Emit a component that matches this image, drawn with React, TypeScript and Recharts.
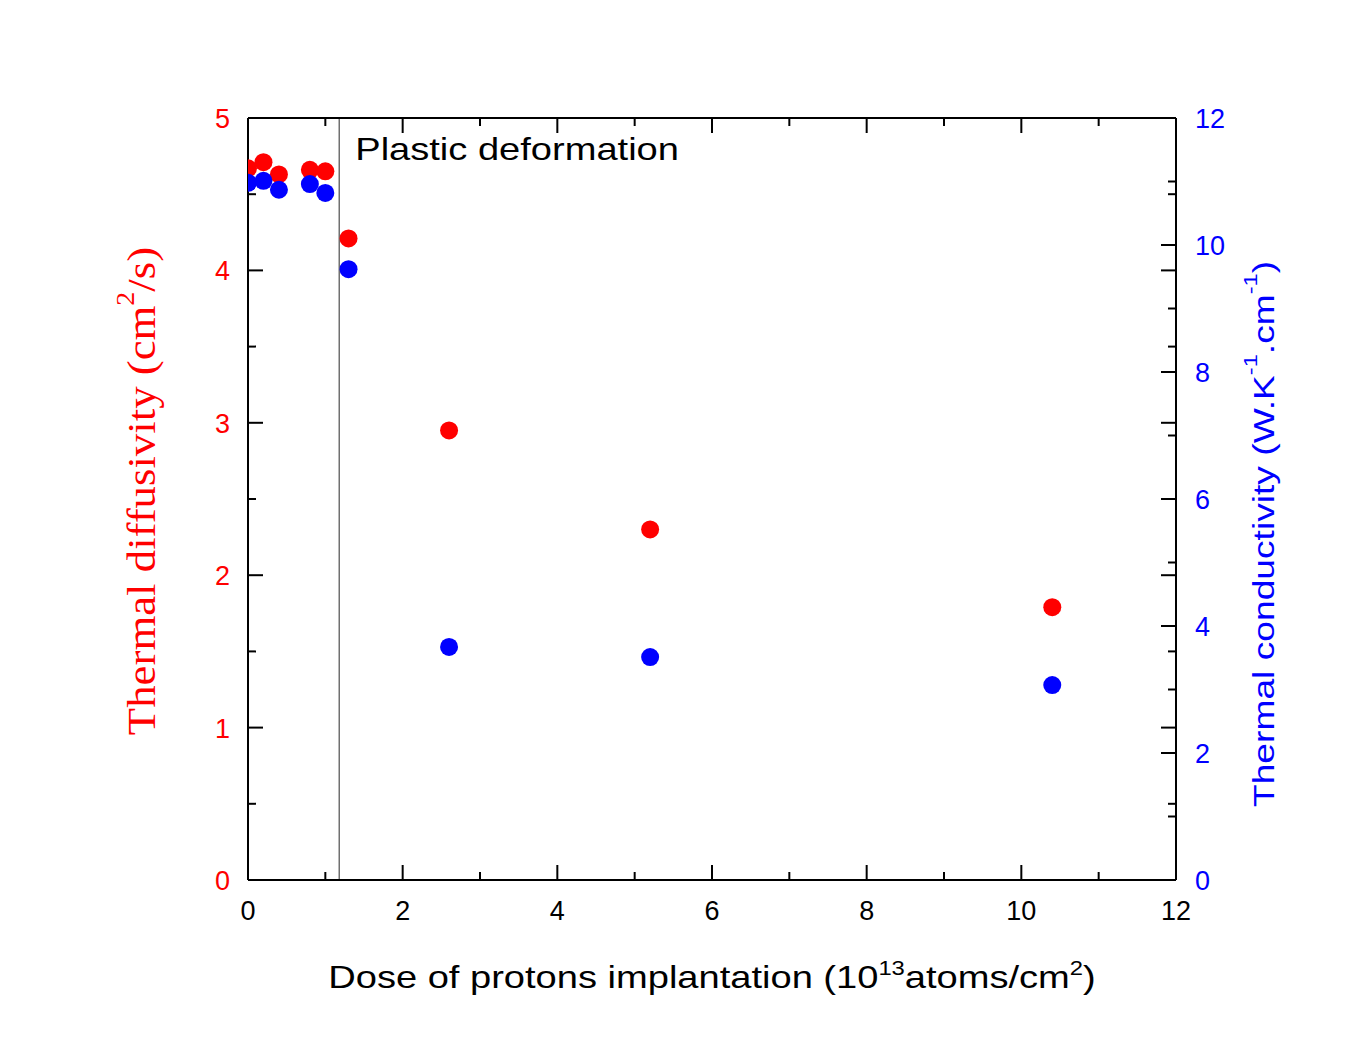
import { ScatterChart, Scatter, XAxis, YAxis, ReferenceLine } from 'recharts';

// dose of protons (10^13 atoms/cm^2)
const dose = [0, 0.2, 0.4, 0.8, 1.0, 1.3, 2.6, 5.2, 10.4];
// thermal diffusivity (cm^2/s), left axis
const diffusivity = [4.67, 4.71, 4.63, 4.66, 4.65, 4.21, 2.95, 2.3, 1.79];
// thermal conductivity (W.K^-1.cm^-1), right axis
const conductivity = [10.98, 11.01, 10.87, 10.96, 10.82, 9.62, 3.67, 3.51, 3.07];

const xMajor = [0, 2, 4, 6, 8, 10, 12];
const xTicks = [0, 1, 2, 3, 4, 5, 6, 7, 8, 9, 10, 11, 12];
const leftMajor = [0, 1, 2, 3, 4, 5];
const leftTicks = [0, 0.5, 1, 1.5, 2, 2.5, 3, 3.5, 4, 4.5, 5];
const rightMajor = [0, 2, 4, 6, 8, 10, 12];
const rightTicks = [0, 1, 2, 3, 4, 5, 6, 7, 8, 9, 10, 11, 12];

const leftMax = 5;
const rightMax = 12;
const plasticDose = 1.18;

const RED = '#ff0000';
const BLUE = '#0000ff';
const SANS = '"Liberation Sans", Arial, sans-serif';
const SERIF = '"Liberation Serif", "Times New Roman", serif';

const redPoints = dose.map((x, i) => ({ x, y: diffusivity[i] }));
const bluePoints = dose.map((x, i) => ({ x, y: conductivity[i] }));

// left-axis ticks are repeated on the right frame, expressed in right-axis units
const mirroredLeft = leftTicks
  .map((v) => (v * rightMax) / leftMax)
  .filter((v) => !rightTicks.some((r) => Math.abs(r - v) < 1e-6));
const rightAllTicks = [...rightTicks, ...mirroredLeft];

type Side = 'bottom' | 'top' | 'left' | 'right';

function makeTick(side: Side, majors: number[], color: string, showLabel: boolean) {
  return (props: any) => {
    const { x, y, payload } = props;
    const v = payload.value;
    let major = majors.some((m) => Math.abs(m - v) < 1e-6);
    let isOwn = true;
    if (side === 'right' && !rightTicks.some((r) => Math.abs(r - v) < 1e-6)) {
      isOwn = false;
      const lv = (v * leftMax) / rightMax;
      major = Math.abs(lv - Math.round(lv)) < 1e-6;
    }
    const len = major ? 15 : 8;
    let line;
    let label = null;
    if (side === 'bottom') {
      line = <line x1={x} y1={y} x2={x} y2={y - len} stroke="#000" strokeWidth={2} />;
      if (showLabel && major)
        label = (
          <text x={x} y={y + 40} textAnchor="middle" fontSize={27} fill={color} fontFamily={SANS}>
            {v}
          </text>
        );
    } else if (side === 'top') {
      line = <line x1={x} y1={y} x2={x} y2={y + len} stroke="#000" strokeWidth={2} />;
    } else if (side === 'left') {
      line = <line x1={x} y1={y} x2={x + len} y2={y} stroke="#000" strokeWidth={2} />;
      if (showLabel && major)
        label = (
          <text x={x - 18} y={y + 10} textAnchor="end" fontSize={27} fill={color} fontFamily={SANS}>
            {v}
          </text>
        );
    } else {
      line = <line x1={x} y1={y} x2={x - len} y2={y} stroke="#000" strokeWidth={2} />;
      if (showLabel && major && isOwn)
        label = (
          <text x={x + 19} y={y + 10} textAnchor="start" fontSize={27} fill={color} fontFamily={SANS}>
            {v}
          </text>
        );
    }
    return (
      <g>
        {line}
        {label}
      </g>
    );
  };
}

function LeftTitle(props: any) {
  const vb = props.viewBox;
  const cx = vb.x + 133;
  const cy = vb.y + vb.height / 2 - 8;
  return (
    <text
      x={0}
      y={0}
      transform={`translate(${cx}, ${cy}) rotate(-90) scale(1.12, 1)`}
      textAnchor="middle"
      dominantBaseline="central"
      fontSize={40}
      fill={RED}
      fontFamily={SERIF}
    >
      Thermal diffusivity (cm
      <tspan dy={-15} fontSize={25}>2</tspan>
      <tspan dy={15}>/s)</tspan>
    </text>
  );
}

function RightTitle(props: any) {
  const vb = props.viewBox;
  const cx = vb.x + 87;
  const cy = vb.y + vb.height / 2 + 35;
  return (
    <text
      x={0}
      y={0}
      transform={`translate(${cx}, ${cy}) rotate(-90) scale(1.24, 1)`}
      textAnchor="middle"
      dominantBaseline="central"
      fontSize={30}
      fill={BLUE}
      fontFamily={SANS}
    >
      Thermal conductivity (W.K
      <tspan dy={-12} fontSize={19}>-1</tspan>
      <tspan dy={12}>.cm</tspan>
      <tspan dy={-12} fontSize={19}>-1</tspan>
      <tspan dy={12}>)</tspan>
    </text>
  );
}

function BottomTitle(props: any) {
  const vb = props.viewBox;
  const cx = vb.x + vb.width / 2;
  const cy = vb.y + 108;
  return (
    <text
      x={0}
      y={0}
      transform={`translate(${cx}, ${cy}) scale(1.19, 1)`}
      textAnchor="middle"
      fontSize={32}
      fill="#000"
      fontFamily={SANS}
    >
      Dose of protons implantation (10
      <tspan dy={-13} fontSize={20}>13</tspan>
      <tspan dy={13}>atoms/cm</tspan>
      <tspan dy={-13} fontSize={20}>2</tspan>
      <tspan dy={13}>)</tspan>
    </text>
  );
}

function PlasticLabel(props: any) {
  const vb = props.viewBox;
  return (
    <text
      x={0}
      y={0}
      transform={`translate(${vb.x + 16}, ${vb.y + 42}) scale(1.19, 1)`}
      fontSize={32}
      fill="#000"
      fontFamily={SANS}
    >
      Plastic deformation
    </text>
  );
}

const Nothing = () => <g />;

export default function App() {
  return (
    <div style={{ width: 1334, height: 1036, background: '#fff' }}>
      <ScatterChart
        width={1334}
        height={1036}
        margin={{ top: 109, right: 0, bottom: 0, left: 0 }}
        style={{ fontFamily: SANS }}
      >
        <XAxis
          xAxisId="bottom"
          type="number"
          dataKey="x"
          orientation="bottom"
          domain={[0, 12]}
          allowDataOverflow
          ticks={xTicks}
          interval={0}
          height={164}
          tickSize={0}
          tickMargin={0}
          tickLine={false}
          axisLine={{ stroke: '#000', strokeWidth: 2 }}
          tick={makeTick('bottom', xMajor, '#000', true)}
          label={(p: any) => <BottomTitle {...p} />}
        />
        <XAxis
          xAxisId="top"
          type="number"
          dataKey="x"
          orientation="top"
          domain={[0, 12]}
          allowDataOverflow
          ticks={xTicks}
          interval={0}
          height={1}
          tickSize={0}
          tickMargin={0}
          tickLine={false}
          axisLine={{ stroke: '#000', strokeWidth: 2 }}
          tick={makeTick('top', xMajor, '#000', false)}
        />
        <YAxis
          yAxisId="left"
          type="number"
          dataKey="y"
          orientation="left"
          domain={[0, leftMax]}
          ticks={leftTicks}
          interval={0}
          width={240}
          tickSize={0}
          tickMargin={0}
          tickLine={false}
          axisLine={{ stroke: '#000', strokeWidth: 2 }}
          tick={makeTick('left', leftMajor, RED, true)}
          label={(p: any) => <LeftTitle {...p} />}
        />
        <YAxis
          yAxisId="right"
          type="number"
          dataKey="y"
          orientation="right"
          domain={[0, rightMax]}
          ticks={rightAllTicks}
          interval={0}
          width={166}
          tickSize={0}
          tickMargin={0}
          tickLine={false}
          axisLine={{ stroke: '#000', strokeWidth: 2 }}
          tick={makeTick('right', rightMajor, BLUE, true)}
          label={(p: any) => <RightTitle {...p} />}
        />
        <ReferenceLine
          x={plasticDose}
          xAxisId="bottom"
          yAxisId="left"
          stroke="#707070"
          strokeWidth={1.5}
          label={(p: any) => <PlasticLabel {...p} />}
        />
        {/* invisible series so the mirrored top axis gets its ticks */}
        <Scatter
          data={redPoints}
          xAxisId="top"
          yAxisId="left"
          isAnimationActive={false}
          shape={Nothing}
        />
        <Scatter
          name="Thermal diffusivity"
          data={redPoints}
          xAxisId="bottom"
          yAxisId="left"
          isAnimationActive={false}
          shape={(p: any) => <circle cx={p.cx} cy={p.cy} r={9} fill={RED} />}
        />
        <Scatter
          name="Thermal conductivity"
          data={bluePoints}
          xAxisId="bottom"
          yAxisId="right"
          isAnimationActive={false}
          shape={(p: any) => <circle cx={p.cx} cy={p.cy} r={9} fill={BLUE} />}
        />
      </ScatterChart>
    </div>
  );
}
